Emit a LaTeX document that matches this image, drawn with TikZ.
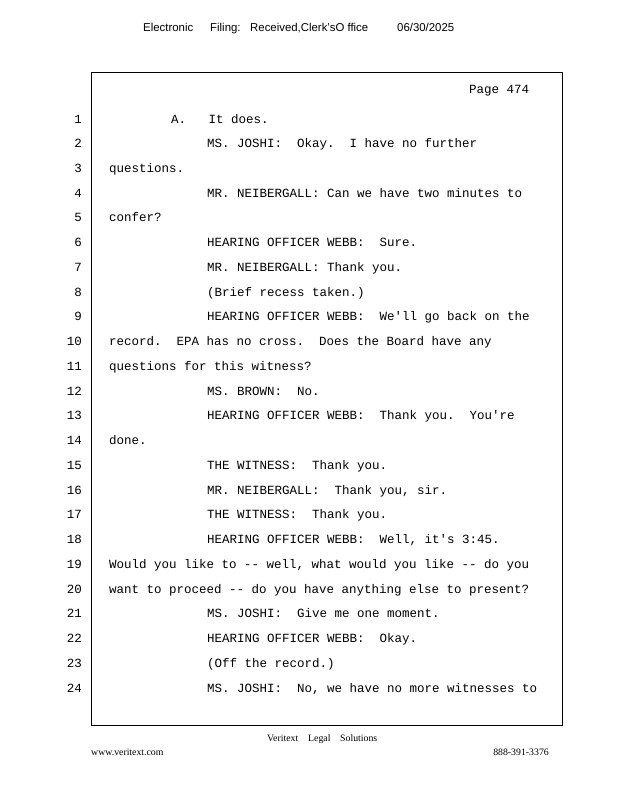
\documentclass[tikz,border=0pt]{standalone}
\usepackage{fontspec}
\setmainfont{Liberation Serif}
\setsansfont{Liberation Sans}
\setmonofont{Liberation Mono}
\begin{document}
\begin{tikzpicture}[x=1pt,y=-1pt,
  txt/.style={anchor=base west,inner sep=0pt,font=\ttfamily\fontsize{12.5}{14}\selectfont},
  num/.style={anchor=base east,inner sep=0pt,font=\ttfamily\fontsize{12.5}{14}\selectfont},
  hdr/.style={anchor=base west,inner sep=0pt,font=\sffamily\fontsize{11.4}{13}\selectfont},
  ftr/.style={anchor=base west,inner sep=0pt,font=\rmfamily\fontsize{9.8}{12}\selectfont}]
\useasboundingbox (0,0) rectangle (618,800);
\fill[white] (0,0) rectangle (618,800);
% header
\node[hdr] (h1) at (143,32) {Electronic};
\node[hdr] (h2) at (210,32) {Filing:};
\node[hdr] (h3) at (250,32) {Received,Clerk'sO ffice};
\node[hdr] (h4) at (397,32) {06/30/2025};
% frame
\draw[line width=0.8pt] (91,72) rectangle (562,725);
\node[txt] (pg) at (469,93) {Page 474};
% line numbers and text
\foreach \i in {1,...,24} {
  \node[num] (n\i) at (82,{123+(\i-1)*24.74}) {\i};
}
\def\Y#1{{123+(#1-1)*24.74}}
\node[txt] (t1) at (171,\Y{1}) {A.\ \ \ It does.};
\node[txt] (t2) at (207,\Y{2}) {MS. JOSHI:\ \ Okay.\ \ I have no further};
\node[txt] (t3) at (109,\Y{3}) {questions.};
\node[txt] (t4) at (207,\Y{4}) {MR. NEIBERGALL: Can we have two minutes to};
\node[txt] (t5) at (109,\Y{5}) {confer?};
\node[txt] (t6) at (207,\Y{6}) {HEARING OFFICER WEBB:\ \ Sure.};
\node[txt] (t7) at (207,\Y{7}) {MR. NEIBERGALL: Thank you.};
\node[txt] (t8) at (207,\Y{8}) {(Brief recess taken.)};
\node[txt] (t9) at (207,\Y{9}) {HEARING OFFICER WEBB:\ \ We'll go back on the};
\node[txt] (t10) at (109,\Y{10}) {record.\ \ EPA has no cross.\ \ Does the Board have any};
\node[txt] (t11) at (109,\Y{11}) {questions for this witness?};
\node[txt] (t12) at (207,\Y{12}) {MS. BROWN:\ \ No.};
\node[txt] (t13) at (207,\Y{13}) {HEARING OFFICER WEBB:\ \ Thank you.\ \ You're};
\node[txt] (t14) at (109,\Y{14}) {done.};
\node[txt] (t15) at (207,\Y{15}) {THE WITNESS:\ \ Thank you.};
\node[txt] (t16) at (207,\Y{16}) {MR. NEIBERGALL:\ \ Thank you, sir.};
\node[txt] (t17) at (207,\Y{17}) {THE WITNESS:\ \ Thank you.};
\node[txt] (t18) at (207,\Y{18}) {HEARING OFFICER WEBB:\ \ Well, it's 3:45.};
\node[txt] (t19) at (109,\Y{19}) {Would you like to -{}- well, what would you like -{}- do you};
\node[txt] (t20) at (109,\Y{20}) {want to proceed -{}- do you have anything else to present?};
\node[txt] (t21) at (207,\Y{21}) {MS. JOSHI:\ \ Give me one moment.};
\node[txt] (t22) at (207,\Y{22}) {HEARING OFFICER WEBB:\ \ Okay.};
\node[txt] (t23) at (207,\Y{23}) {(Off the record.)};
\node[txt] (t24) at (207,\Y{24}) {MS. JOSHI:\ \ No, we have no more witnesses to};
% footer
\node[ftr] (f1) at (267,741) {Veritext};
\node[ftr] (f2) at (308,741) {Legal};
\node[ftr] (f3) at (340,741) {Solutions};
\node[ftr] (f4) at (91,755) {www.veritext.com};
\node[ftr,anchor=base east] (f5) at (549,755) {888-391-3376};
\end{tikzpicture}
\end{document}
